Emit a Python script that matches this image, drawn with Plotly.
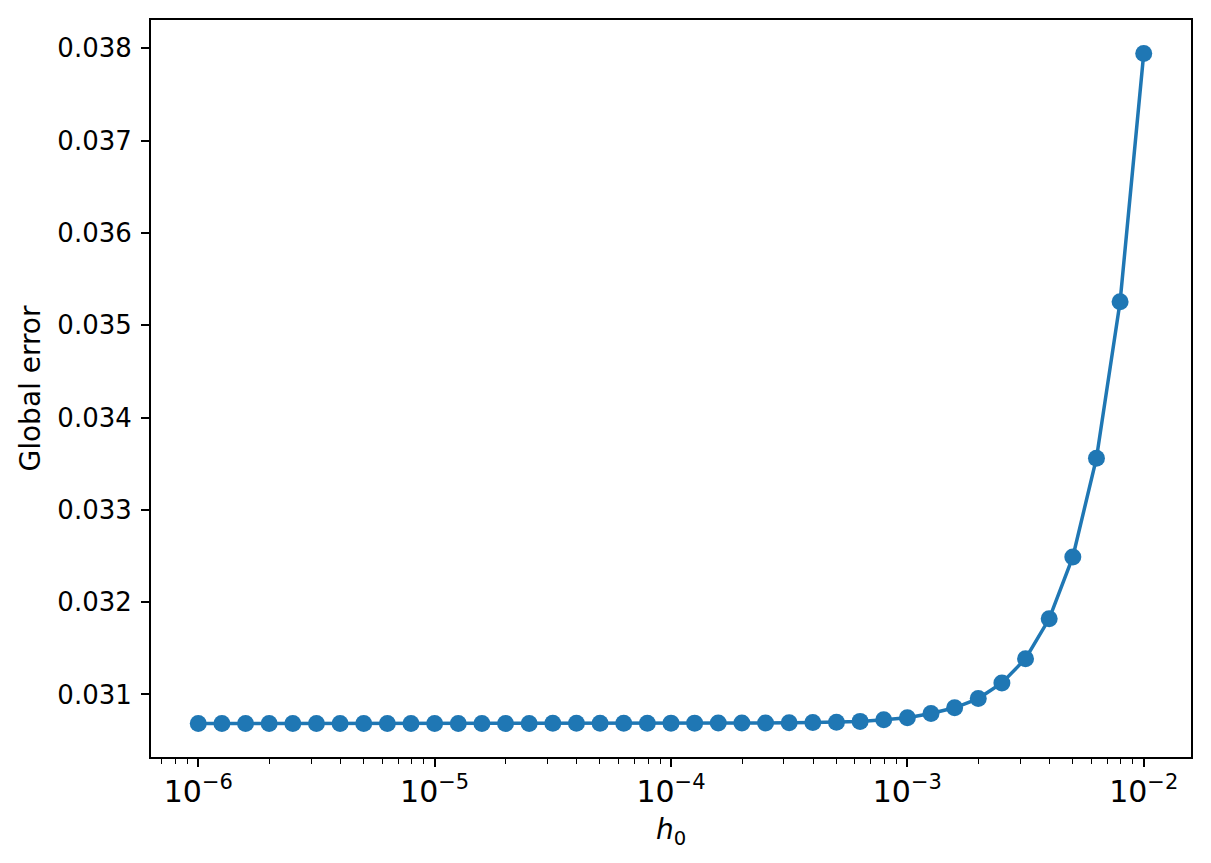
import plotly.graph_objects as go

# step sizes h0 (10 per decade, 1e-6 .. 1e-2)
h0 = [
    1.000e-06, 1.259e-06, 1.585e-06, 1.995e-06, 2.512e-06, 3.162e-06, 3.981e-06, 5.012e-06, 6.310e-06, 7.943e-06,
    1.000e-05, 1.259e-05, 1.585e-05, 1.995e-05, 2.512e-05, 3.162e-05, 3.981e-05, 5.012e-05, 6.310e-05, 7.943e-05,
    1.000e-04, 1.259e-04, 1.585e-04, 1.995e-04, 2.512e-04, 3.162e-04, 3.981e-04, 5.012e-04, 6.310e-04, 7.943e-04,
    1.000e-03, 1.259e-03, 1.585e-03, 1.995e-03, 2.512e-03, 3.162e-03, 3.981e-03, 5.012e-03, 6.310e-03, 7.943e-03,
    1.000e-02,
]

# global error
global_error = [
    0.030685, 0.030685, 0.030685, 0.030685, 0.030685, 0.030685, 0.030685, 0.030685, 0.030685, 0.030685,
    0.030686, 0.030686, 0.030686, 0.030686, 0.030686, 0.030687, 0.030687, 0.030687, 0.030688, 0.030688,
    0.030689, 0.030689, 0.030690, 0.030690, 0.030691, 0.030692, 0.030695, 0.030699, 0.030708, 0.030725,
    0.030747, 0.030793, 0.030855, 0.030955, 0.031125, 0.031387, 0.031819, 0.032490, 0.033559, 0.035254,
    0.037944,
]

y_ticks = [0.031, 0.032, 0.033, 0.034, 0.035, 0.036, 0.037, 0.038]

BLUE = "#1f77b4"
FONT = "DejaVu Sans"
FSIZE = 26

# matplotlib-like 5% margins
lo, hi = min(global_error), max(global_error)
pad = 0.05 * (hi - lo)

fig = go.Figure()

fig.add_trace(
    go.Scatter(
        x = h0,
        y = global_error,
        mode = "lines+markers",
        line = {"color": BLUE, "width": 3.5},
        marker = {"color": BLUE, "size": 17},
        showlegend = False,
    )
)

axis_common = dict(
    showline = True,
    linecolor = "black",
    linewidth = 2,
    mirror = True,
    showgrid = False,
    zeroline = False,
    ticks = "outside",
    ticklen = 8,
    tickwidth = 1.8,
    tickcolor = "black",
)

fig.update_xaxes(
    type = "log",
    range = [-6.2, -1.8],
    dtick = 1,
    exponentformat = "power",
    tickfont = {"family": FONT, "size": 24, "color": "black"},
    minor = dict(ticks = "outside", ticklen = 4.5, tickwidth = 1.4, tickcolor = "black", dtick = "D1", showgrid = False),
    title_text = "<i>h</i><sub>0</sub>",
    title_font = {"family": FONT, "size": 28, "color": "black"},
    title_standoff = 12,
    **axis_common,
)

fig.update_yaxes(
    range = [lo - pad, hi + pad],
    tickmode = "array",
    tickvals = y_ticks,
    tickformat = ".3f",
    tickfont = {"family": FONT, "size": FSIZE, "color": "black"},
    ticklabelstandoff = 4,
    title_text = "Global error",
    title_font = {"family": FONT, "size": 28, "color": "black"},
    title_standoff = 9,
    **axis_common,
)

# page body adds ~8px offset, so figure is a bit smaller than the window
fig.update_layout(
    width = 1203,
    height = 855,
    margin = dict(l = 143, r = 20, t = 10, b = 106),
    paper_bgcolor = "white",
    plot_bgcolor = "white",
    font = {"family": FONT, "color": "black"},
)

fig.write_html("out.html")
